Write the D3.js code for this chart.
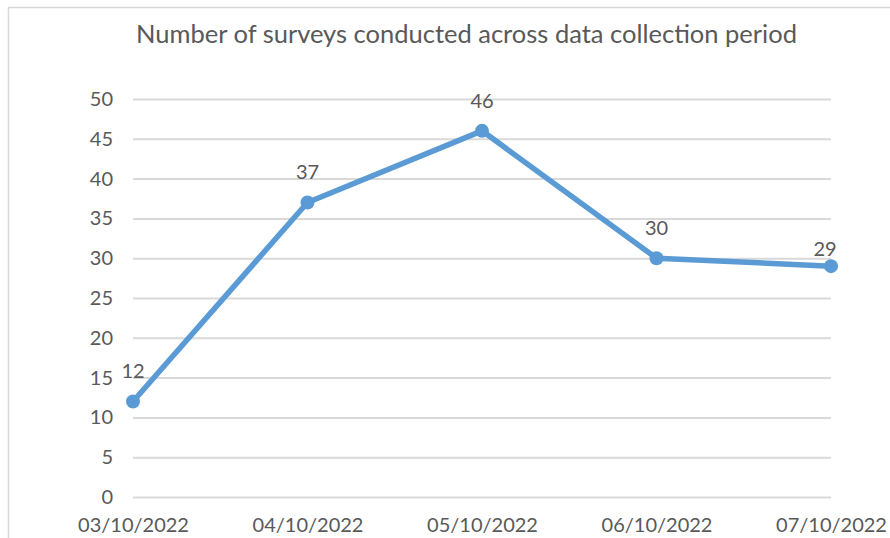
<!DOCTYPE html>
<html><head><meta charset="utf-8">
<script src="https://cdn.jsdelivr.net/npm/d3@7"></script>
<style>
html,body{margin:0;padding:0;background:#fff;}
svg{display:block;}
text{font-family:Lato,"Open Sans",sans-serif;fill:#595959;}
</style></head>
<body>
<svg id="chart" width="890" height="538"></svg>
<script>
const categories = ["03/10/2022","04/10/2022","05/10/2022","06/10/2022","07/10/2022"];
const values = [12, 37, 46, 30, 29];
const yTicks = [0,5,10,15,20,25,30,35,40,45,50];
const title = "Number of surveys conducted across data collection period";

const svg = d3.select("#chart");
const W = 890, H = 538;
const plot = {left:133, right:831, top:99, bottom:497};

svg.append("rect").attr("x",8.5).attr("y",7.5).attr("width",W+20).attr("height",H+20)
  .attr("fill","#fff").attr("stroke","#D9D9D9").attr("stroke-width",1.5);

const x = d3.scalePoint().domain(categories).range([plot.left, plot.right]);
const y = d3.scaleLinear().domain([0,50]).range([plot.bottom, plot.top]);

// gridlines
const yAxis = d3.axisLeft(y).tickValues(yTicks).tickSize(-(plot.right-plot.left)).tickPadding(20);
const gy = svg.append("g").attr("transform",`translate(${plot.left},0)`).call(yAxis);
gy.select(".domain").remove();
gy.selectAll(".tick line").attr("stroke","#D9D9D9").attr("stroke-width",2);
gy.selectAll(".tick text").attr("font-size",20).attr("fill","#595959").attr("font-family","Lato");

// x axis labels
const xAxis = d3.axisBottom(x).tickSize(0).tickPadding(21);
const gx = svg.append("g").attr("transform",`translate(0,${plot.bottom})`).call(xAxis);
gx.select(".domain").remove();
gx.selectAll(".tick text").attr("font-size",20).attr("fill","#595959").attr("font-family","Lato");

// title
svg.append("text").attr("x",466.5).attr("y",43).attr("text-anchor","middle")
  .attr("font-size",25.5).text(title);

// line
const data = categories.map((c,i)=>({c, v:values[i]}));
svg.append("path").datum(data)
  .attr("fill","none").attr("stroke","#5B9BD5").attr("stroke-width",5.5)
  .attr("stroke-linejoin","round").attr("stroke-linecap","round")
  .attr("d", d3.line().x(d=>x(d.c)).y(d=>y(d.v)));
svg.selectAll("circle.pt").data(data).enter().append("circle")
  .attr("class","pt").attr("cx",d=>x(d.c)).attr("cy",d=>y(d.v)).attr("r",7)
  .attr("fill","#5B9BD5");

// data labels
const n = data.length;
svg.selectAll("text.lbl").data(data).enter().append("text")
  .attr("class","lbl").attr("text-anchor","middle").attr("font-size",20)
  .attr("x",(d,i)=> i===n-1 ? x(d.c)-6 : x(d.c))
  .attr("y",(d,i)=> i===n-1 ? y(d.v)-10 : y(d.v)-23)
  .text(d=>d.v);
</script>
</body></html>
